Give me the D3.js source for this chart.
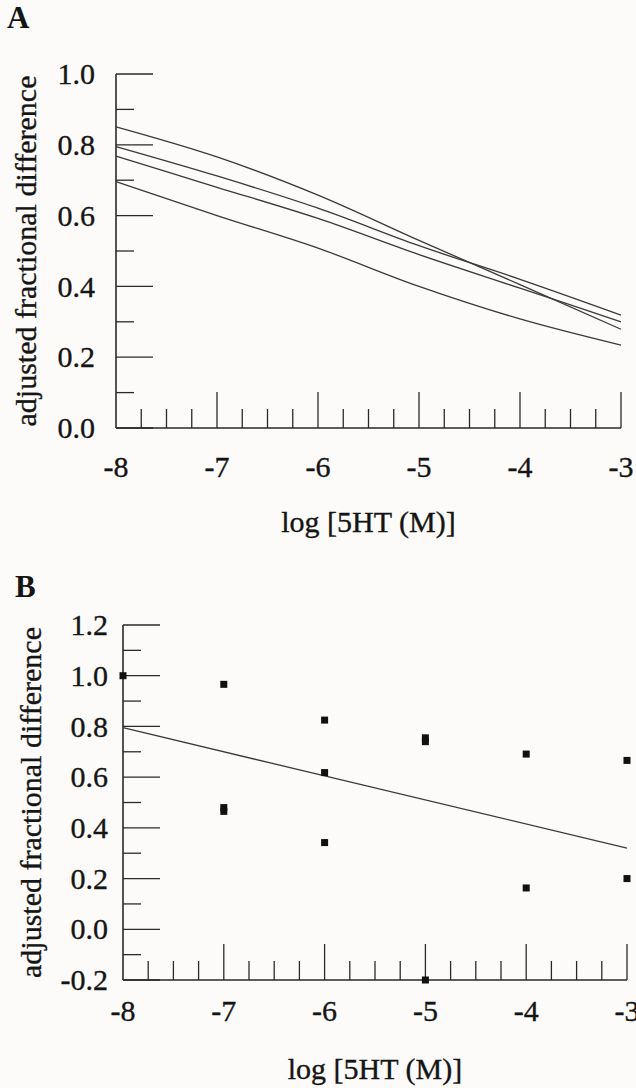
<!DOCTYPE html>
<html>
<head>
<meta charset="utf-8">
<script src="https://cdn.jsdelivr.net/npm/d3@7"></script>
<style>
  html, body { margin: 0; padding: 0; background: #fdfbf9; }
  svg { display: block; }
</style>
</head>
<body>
<svg id="chart" width="636" height="1088"></svg>
<script>
// ---------- Data ----------
// Panel A: four fitted curves, sampled at integer log concentrations
const logConcA = [-8, -7, -6, -5, -4, -3];
const curveA1 = [0.851, 0.766, 0.658, 0.530, 0.405, 0.279];
const curveA2 = [0.795, 0.712, 0.621, 0.515, 0.420, 0.319];
const curveA3 = [0.768, 0.680, 0.592, 0.490, 0.395, 0.300];
const curveA4 = [0.696, 0.600, 0.508, 0.400, 0.308, 0.234];

// Panel B: individual data points and regression line
const pointX = [-8, -7, -7, -7, -6, -6, -6, -5, -5, -5, -4, -4, -3, -3];
const pointY = [1.00, 0.966, 0.480, 0.465, 0.825, 0.618, 0.342, 0.755, 0.740, -0.200, 0.691, 0.163, 0.666, 0.200];
const fitX = [-8, -3];
const fitY = [0.795, 0.320];

// Tick labels
const xTicks = [-8, -7, -6, -5, -4, -3];
const yTicksA = [0.0, 0.2, 0.4, 0.6, 0.8, 1.0];
const yTicksB = [-0.2, 0.0, 0.2, 0.4, 0.6, 0.8, 1.0, 1.2];

const yTitle = "adjusted fractional difference";
const xTitle = "log [5HT (M)]";

// ---------- Font detection (pick an installed Times-like serif) ----------
function pickFont() {
  const cands = ["Liberation Serif", "Tinos", "Times New Roman", "Times", "Nimbus Roman", "Noto Serif", "DejaVu Serif"];
  const ctx = document.createElement("canvas").getContext("2d");
  const s = "adjusted fractional difference 0.8 -5";
  ctx.font = "30px monospace";
  const base = ctx.measureText(s).width;
  for (const c of cands) {
    ctx.font = `30px "${c}", monospace`;
    if (Math.abs(ctx.measureText(s).width - base) > 0.5) return `"${c}", serif`;
  }
  return "serif";
}
const FONT = pickFont();

// ---------- Drawing ----------
const svg = d3.select("#chart").attr("font-family", FONT);
const ink = "#2a2a2a";
const textInk = "#151515";
const fs = 30;

function styleText(sel) {
  return sel.attr("fill", textInk).attr("stroke", textInk).attr("stroke-width", 0.35);
}

function drawPanel(cfg) {
  const g = svg.append("g");
  const x = d3.scaleLinear().domain([-8, -3]).range([cfg.x0, cfg.x1]);
  const y = d3.scaleLinear().domain(cfg.yDomain).range([cfg.yBottom, cfg.yTop]);

  // minor y ticks every 0.1
  const yMinor = d3.range(Math.round(cfg.yDomain[0] * 10), Math.round(cfg.yDomain[1] * 10) + 1).map(d => d / 10);
  g.append("g").selectAll("line").data(yMinor).join("line")
    .attr("x1", x(-8)).attr("x2", d => {
      const isMajor = cfg.yTicks.some(t => Math.abs(t - d) < 1e-6);
      return x(-8) + (isMajor ? 37 : 18);
    })
    .attr("y1", d => y(d)).attr("y2", d => y(d))
    .attr("stroke", ink).attr("stroke-width", 1.3);

  // minor x ticks every 0.25
  const xMinor = d3.range(-8 * 4, -3 * 4 + 1).map(d => d / 4).filter(d => d > -8);
  g.append("g").selectAll("line").data(xMinor).join("line")
    .attr("x1", d => x(d)).attr("x2", d => x(d))
    .attr("y1", y(cfg.yDomain[0]))
    .attr("y2", d => y(cfg.yDomain[0]) - (Number.isInteger(d) ? 36 : 19))
    .attr("stroke", ink).attr("stroke-width", 1.3);

  // axis lines
  g.append("line").attr("x1", x(-8)).attr("x2", x(-8))
    .attr("y1", y(cfg.yDomain[0])).attr("y2", y(cfg.yDomain[1]))
    .attr("stroke", ink).attr("stroke-width", 1.6);
  g.append("line").attr("x1", x(-8)).attr("x2", x(-3))
    .attr("y1", y(cfg.yDomain[0])).attr("y2", y(cfg.yDomain[0]))
    .attr("stroke", ink).attr("stroke-width", 1.6);

  // y tick labels
  styleText(g.append("g").selectAll("text").data(cfg.yTicks).join("text"))
    .attr("x", cfg.yLabelX).attr("y", d => y(d))
    .attr("dy", "0.34em")
    .attr("text-anchor", "end")
    .attr("font-size", fs)
    .text(d => d3.format(".1f")(d).replace("−", "-"));

  // x tick labels
  styleText(g.append("g").selectAll("text").data(xTicks).join("text"))
    .attr("x", d => x(d)).attr("y", cfg.xLabelY)
    .attr("text-anchor", "middle")
    .attr("font-size", fs)
    .text(d => String(d));

  // axis titles
  styleText(g.append("text"))
    .attr("transform", `translate(${cfg.yTitleX},${(y(cfg.yDomain[0]) + y(cfg.yDomain[1])) / 2}) rotate(-90)`)
    .attr("text-anchor", "middle")
    .attr("font-size", fs)
    .text(yTitle);
  styleText(g.append("text"))
    .attr("x", (x(-8) + x(-3)) / 2).attr("y", cfg.xTitleY)
    .attr("text-anchor", "middle")
    .attr("font-size", fs)
    .text(xTitle);

  // panel letter
  g.append("text")
    .attr("x", cfg.letterX).attr("y", cfg.letterY)
    .attr("font-size", 31).attr("font-weight", "bold")
    .attr("fill", textInk)
    .text(cfg.letter);

  return { g, x, y };
}

// Panel A
const A = drawPanel({
  letter: "A", letterX: 7, letterY: 28,
  x0: 116, x1: 621, yTop: 74, yBottom: 428, yDomain: [0, 1.0],
  yTicks: yTicksA, yLabelX: 95, xLabelY: 477, xTitleY: 532, yTitleX: 36
});
const lineGen = d3.line().x(d => A.x(d[0])).y(d => A.y(d[1])).curve(d3.curveMonotoneX);
[curveA1, curveA2, curveA3, curveA4].forEach(series => {
  A.g.append("path")
    .datum(logConcA.map((c, i) => [c, series[i]]))
    .attr("d", lineGen)
    .attr("fill", "none").attr("stroke", "#3a3a3a").attr("stroke-width", 1.3);
});

// Panel B
const B = drawPanel({
  letter: "B", letterX: 15, letterY: 597,
  x0: 123, x1: 627, yTop: 625, yBottom: 980, yDomain: [-0.2, 1.2],
  yTicks: yTicksB, yLabelX: 108, xLabelY: 1021, xTitleY: 1079, yTitleX: 41
});
B.g.append("path")
  .datum(fitX.map((c, i) => [c, fitY[i]]))
  .attr("d", d3.line().x(d => B.x(d[0])).y(d => B.y(d[1])))
  .attr("fill", "none").attr("stroke", "#3a3a3a").attr("stroke-width", 1.3);
const ms = 7;
B.g.append("g").selectAll("rect").data(pointX.map((c, i) => [c, pointY[i]])).join("rect")
  .attr("x", d => B.x(d[0]) - ms / 2).attr("y", d => B.y(d[1]) - ms / 2)
  .attr("width", ms).attr("height", ms)
  .attr("fill", "#111");
</script>
</body>
</html>
